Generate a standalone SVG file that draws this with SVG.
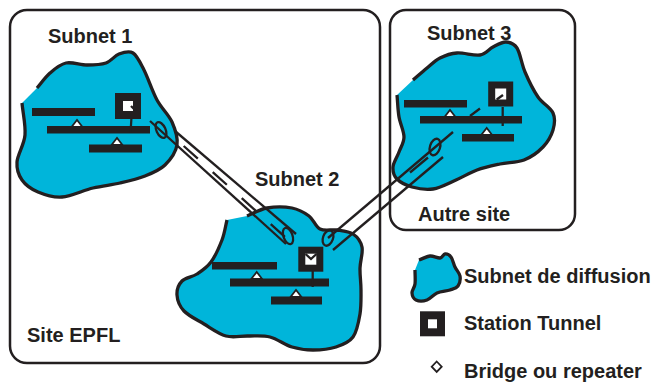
<svg xmlns="http://www.w3.org/2000/svg" width="660" height="384" viewBox="0 0 660 384">
<style>
.box{fill:none;stroke:#231f20;stroke-width:2.5}
.blob{fill:#00b5da;stroke:#231f20;stroke-width:3.3;stroke-linejoin:round;stroke-linecap:butt}
.bar{fill:#231f20}
.sta{fill:#fff;stroke:#231f20}
.ln{stroke:#231f20;stroke-width:2.3;fill:none}
.br{fill:#fff;stroke:#231f20;stroke-width:1.8;stroke-linejoin:miter}
.lbl{font-family:"Liberation Sans",Arial,sans-serif;font-weight:bold;font-size:20px;fill:#231f20}
</style>
<rect width="660" height="384" fill="#fff"/>

<g id="site-epfl">
<rect class="box" x="10" y="10" width="370" height="353" rx="17"/>
<text class="lbl" x="27" y="342">Site EPFL</text>
</g>
<g id="autre-site">
<rect class="box" x="390" y="10" width="185" height="220" rx="16"/>
<text class="lbl" x="418" y="221">Autre site</text>
</g>

<g id="subnet1">
<path class="blob" d="M22,103 C23,113.7 25.8,125.2 25,135 S17.5,154.5 17,162 S18.5,175 22,180 S31.3,189.2 38,192 S52.8,197.7 62,197 S83.3,190.3 93,188 S111.3,185 120,183 S137.5,179 145,176 S159.7,170.2 165,165 S175.8,152.2 177,145 S175.3,129.5 172,122 S161.7,108.7 157,100 S148,77.8 144,70 S137.2,55.7 133,53 S123.5,52.3 119,54 S111.3,61.2 106,63 S93.7,65 87,65 S72.2,61.7 66,63 S54.8,68.8 50,73 S41.3,83 37,88"/>
<polygon class="br" points="71.5,127 77,120 82.5,127"/>
<polygon class="br" points="111.5,145 117,138 122.5,145"/>
<rect class="bar" x="32" y="108" width="63" height="8"/>
<rect class="bar" x="47" y="126" width="103" height="7.5"/>
<rect class="bar" x="89" y="144.5" width="53" height="8"/>
<line class="ln" x1="131.5" y1="117" x2="130.5" y2="133"/>
<rect class="sta" x="119" y="97" width="18" height="18" stroke-width="8"/>
<line class="ln" x1="131" y1="106" x2="136" y2="111" stroke-width="1.5"/>
<text class="lbl" x="48" y="43">Subnet 1</text>
</g>

<g id="subnet2">
<path class="blob" d="M227,220 C225.3,226.7 224.7,233 222,240 S215.2,256.3 211,262 S201.8,270.8 197,274 S185.3,277.5 182,281 S176.7,290 177,295 S179.5,306.2 184,311 S197,319.8 204,324 S218.7,334 226,336 S240.7,335.8 248,336 S262.7,335.2 270,337 S284.8,344.8 292,347 S305.7,350 313,350 S329.3,349.2 336,347 S349,342.5 353,337 S358.7,321.8 360,314 S361,297.7 361,290 S359.8,275.2 360,268 S363.2,252.7 362,247 S357.2,236.8 353,234 S342.5,230.8 337,230 S324.7,231.3 320,229 S313.7,219.5 309,216 S299,209.3 292,208 S274.5,206.7 267,208 S253.7,213.3 247,216"/>
<polygon class="br" points="251.2,279 256.7,272 262.2,279"/>
<polygon class="br" points="290.5,297 296,290 301.5,297"/>
<rect class="bar" x="212" y="262" width="65" height="7.5"/>
<rect class="bar" x="230" y="278.5" width="99" height="8"/>
<rect class="bar" x="271" y="296.5" width="51" height="8"/>
<line class="ln" x1="312.7" y1="271" x2="312.7" y2="287"/>
<rect class="sta" x="301.8" y="250.2" width="18" height="18" stroke-width="7"/>
<polyline class="ln" points="305.5,254 311,259 316.5,254" stroke-width="1.5"/>
<text class="lbl" x="255" y="186">Subnet 2</text>
</g>

<g id="subnet3">
<path class="blob" d="M397,95 C397.7,102.3 397.8,110 399,117 S404,131.2 404,137 S400.8,147 399,152 S393.3,162.5 393,167 S393.8,175.7 397,179 S406,185.3 412,187 S425.7,190.2 433,189 S448.7,183.2 456,180 S469.7,172.7 477,170 S492.2,165.7 500,164 S516.8,162.8 524,160 S538.2,152 543,147 S551.3,135.7 553,130 S555.5,118.5 553,113 S542.7,103.8 538,97 S528.5,80.2 525,72 S520.2,53 517,48 S510,42.2 506,42 S497.3,44.8 493,47 S486,54 480,55 S463.7,52.5 457,53 S445,55.5 440,58 S431.5,64.3 427,68 S417.7,76 413,80"/>
<polygon class="br" points="444.5,117 450,110 455.5,117"/>
<polygon class="br" points="481.2,135 486.7,128 492.2,135"/>
<rect class="bar" x="404" y="100" width="63" height="7.5"/>
<rect class="bar" x="420" y="116" width="102" height="7.5"/>
<rect class="bar" x="462" y="134" width="52" height="7.5"/>
<line class="ln" x1="502.7" y1="107" x2="502.7" y2="126"/>
<rect class="sta" x="491.7" y="85" width="18" height="18" stroke-width="7"/>
<line class="ln" x1="496.7" y1="99.5" x2="503" y2="95" stroke-width="1.6"/>
<text class="lbl" x="427" y="40">Subnet 3</text>
</g>

<g id="connectors">
<g id="tunnel1">
<line class="ln" x1="150" y1="121" x2="286" y2="244"/>
<line class="ln" x1="175" y1="131" x2="296" y2="234"/>
<line class="ln" x1="183.7" y1="146" x2="286.7" y2="238.5" stroke-dasharray="19 20"/>
<ellipse class="ln" cx="161" cy="130" rx="4.5" ry="8.5" transform="rotate(-25 161 130)"/>
<ellipse class="ln" cx="288" cy="236" rx="4.5" ry="8.5" transform="rotate(-20 288 236)"/>
</g>
<g id="tunnel2">
<line class="ln" x1="328" y1="238" x2="453" y2="132"/>
<line class="ln" x1="333" y1="250" x2="443" y2="157"/>
<line class="ln" x1="410" y1="172.5" x2="428" y2="157.5"/>
<line class="ln" x1="470" y1="116" x2="480" y2="108.5"/>
<ellipse class="ln" cx="328" cy="238" rx="5" ry="8" transform="rotate(20 328 238)"/>
<ellipse class="ln" cx="435" cy="147" rx="5" ry="8.5" transform="rotate(18 435 147)"/>
</g>
</g>

<g id="legend">
<g id="legend-subnet">
<path class="blob" d="M415,270 C415,274.7 415.5,280.2 415,284 S411.8,290.3 412,293 S413.5,298.8 416,300 S423.5,301.2 427,300 S433.2,294.7 437,293 S446.5,291.2 450,290 S456.3,288.3 458,286 S460.5,279.2 460,276 S456.5,270.2 455,267 S452.7,259.2 451,257 S446.8,253.8 445,254 S442.5,257.7 440,258 S433.5,255.7 430,256 S422.7,258.7 419,260"/>
<text class="lbl" x="464" y="283">Subnet de diffusion</text>
</g>
<g id="legend-station">
<rect class="sta" x="424" y="315.3" width="17" height="17" stroke-width="8"/>
<text class="lbl" x="464" y="330">Station Tunnel</text>
</g>
<g id="legend-bridge">
<polygon class="br" points="436.7,361.5 441.7,366.7 436.7,371.9 431.7,366.7" stroke-width="2.2"/>
<text class="lbl" x="464" y="378">Bridge ou repeater</text>
</g>
</g>
</svg>
